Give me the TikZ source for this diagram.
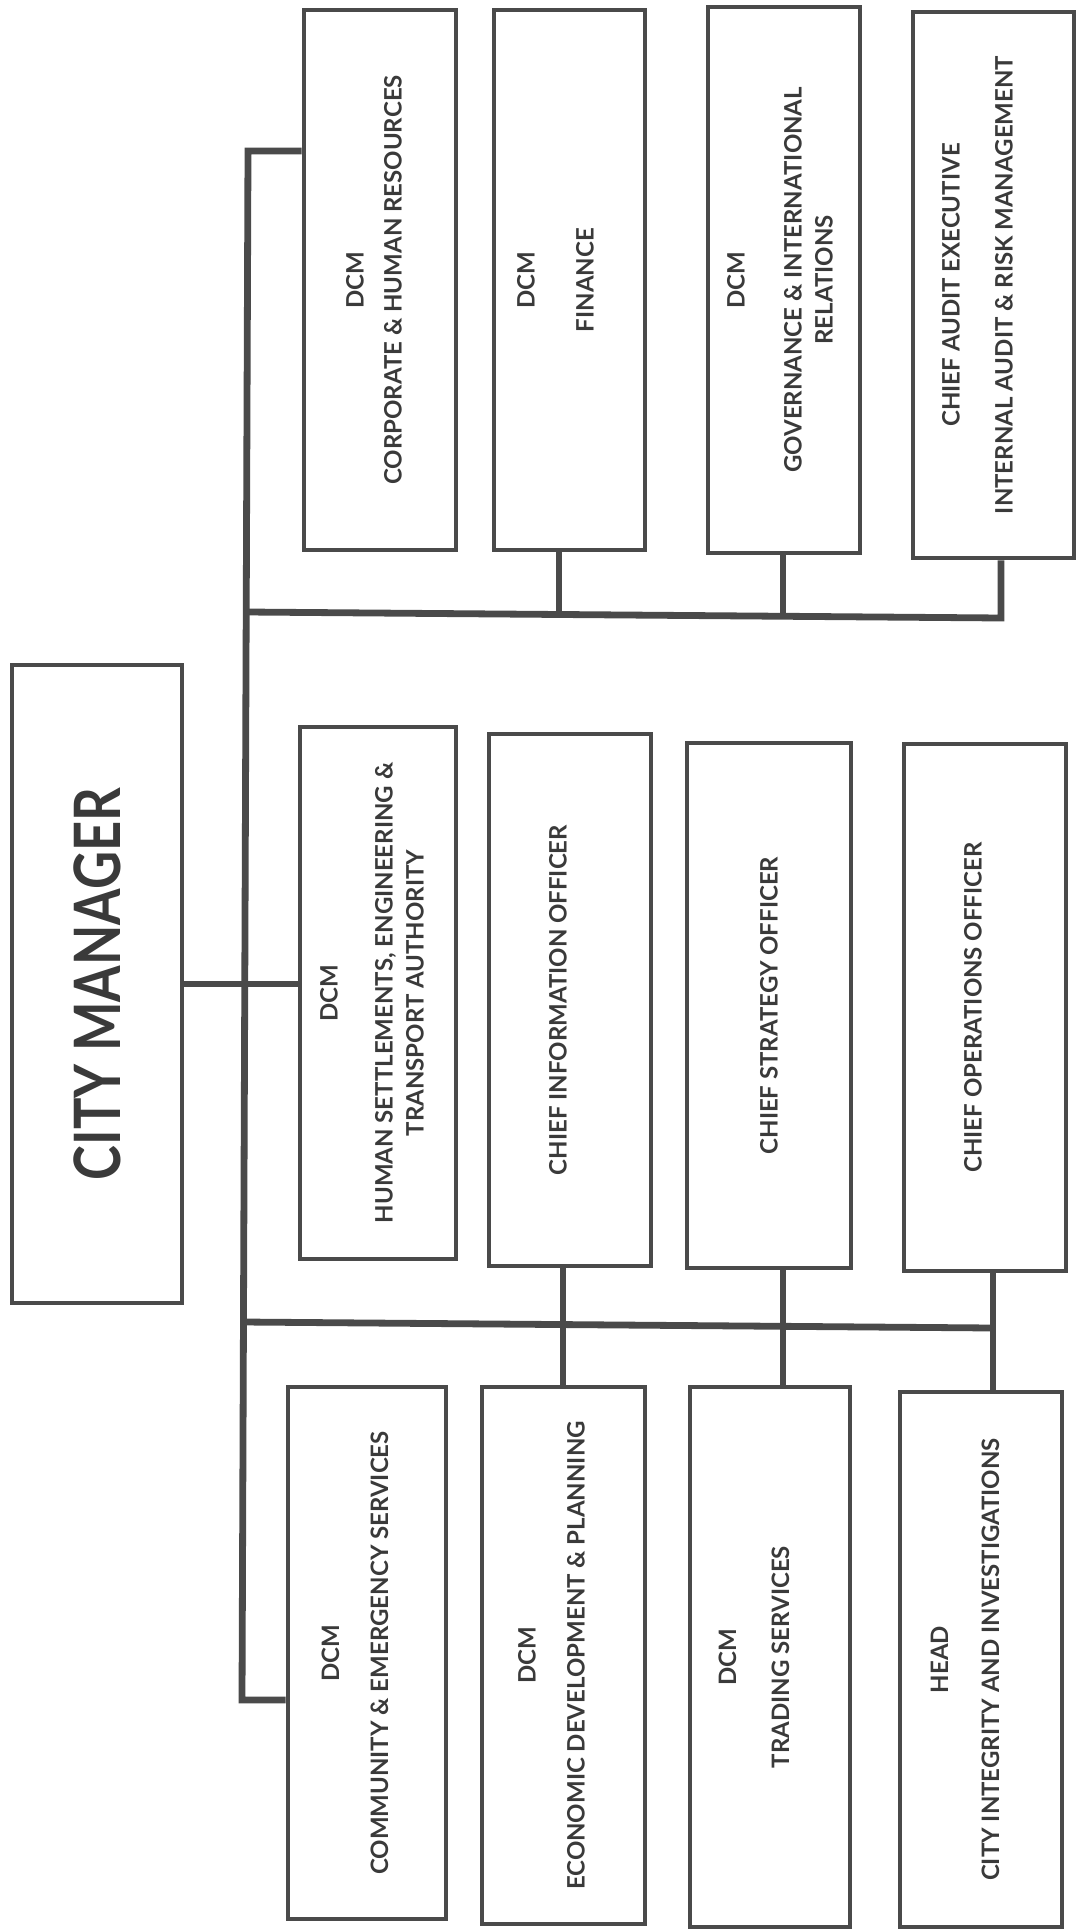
\documentclass[tikz,border=0pt]{standalone}
\usepackage{fontspec}
\setmainfont{Lato}
\usepackage{tikz}
\usetikzlibrary{positioning}
\definecolor{ink}{HTML}{3A3A3A}
\definecolor{rulegray}{HTML}{4A4A4A}

\begin{document}
\begin{tikzpicture}[x=0.5pt,y=-0.5pt,
   box/.style={draw=rulegray,line width=2.4pt,inner sep=0pt},
   sz/.style 2 args={minimum width=#1*0.5pt,minimum height=#2*0.5pt},
   lbl/.style={rotate=90,align=center,text=ink,inner sep=0pt,font=\fontsize{12}{15.5}\selectfont\bfseries},
   wire/.style={draw=rulegray,line width=3.4pt},
]
\useasboundingbox (0,0) rectangle (1080,1930);

\node[box,sz={170}{638}] (cm) at (97,984) {};
\node[lbl,font=\fontsize{32}{36}\selectfont\bfseries] (cm-t) at (cm.center) {\scalebox{0.82}[1]{CITY MANAGER}};

\node[box,sz={152}{540}] (corp)  at (380,280) {};
\node[box,sz={151}{540}] (fin)   at (569.5,280) {};
\node[box,sz={152}{546}] (gov)   at (784,280) {};
\node[box,sz={161}{546}] (audit) at (993.5,285) {};

\node[box,sz={156}{532}] (hum) at (378,993) {};
\node[box,sz={162}{532}] (cio) at (570,1000) {};
\node[box,sz={164}{525}] (cso) at (769,1005.5) {};
\node[box,sz={162}{527}] (coo) at (985,1007.5) {};

\node[box,sz={158}{532}] (comm) at (367,1653) {};
\node[box,sz={163}{537}] (econ) at (563.5,1655.5) {};
\node[box,sz={160}{540}] (trad) at (770,1657) {};
\node[box,sz={162}{535}] (head) at (981,1659.5) {};

\node[lbl] (corp-t)  at ([xshift=-3pt]corp.center)  {DCM\\[3.5pt]CORPORATE \& HUMAN RESOURCES};
\node[lbl] (fin-t)   at ([xshift=-7pt]fin.center)   {DCM\\[14pt]FINANCE};
\node[lbl] (gov-t)   at ([xshift=-2pt]gov.center)   {DCM\\[13pt]GOVERNANCE \& INTERNATIONAL\\RELATIONS};
\node[lbl] (audit-t) at ([xshift=-8pt]audit.center) {CHIEF AUDIT EXECUTIVE\\[11pt]INTERNAL AUDIT \& RISK MANAGEMENT};

\node[lbl] (hum-t) at ([xshift=-3pt]hum.center) {DCM\\[12pt]HUMAN SETTLEMENTS, ENGINEERING \&\\TRANSPORT AUTHORITY};
\node[lbl] (cio-t) at ([xshift=-6pt]cio.center) {CHIEF INFORMATION OFFICER};
\node[lbl] (cso-t) at (cso.center)              {CHIEF STRATEGY OFFICER};
\node[lbl] (coo-t) at ([xshift=-6pt]coo.center) {CHIEF OPERATIONS OFFICER};

\node[lbl] (comm-t) at ([xshift=-6pt]comm.center) {DCM\\[9pt]COMMUNITY \& EMERGENCY SERVICES};
\node[lbl] (econ-t) at ([xshift=-6pt]econ.center) {DCM\\[9pt]ECONOMIC DEVELOPMENT \& PLANNING};
\node[lbl] (trad-t) at ([xshift=-8pt]trad.center) {DCM\\[11pt]TRADING SERVICES};
\node[lbl] (head-t) at ([xshift=-8pt]head.center) {HEAD\\[10pt]CITY INTEGRITY AND INVESTIGATIONS};

\coordinate (jt) at (248,151);
\coordinate (jb) at (242,1700);
\coordinate (tb) at (246,612);
\coordinate (tf) at (559,612);
\coordinate (tg) at (783,614);
\coordinate (ta) at (1001,618);
\coordinate (bb) at (243,1322);
\coordinate (be) at (563,1324);
\coordinate (bt) at (783,1326);
\coordinate (bh) at (993,1328);

\draw[wire] (corp.west |- jt) -- (jt) -- (jb) -- (comm.west |- jb);
\draw[wire] (cm.east) -- (cm.east -| hum.west);
\draw[wire] (tb) -- (ta) -- (ta |- audit.south);
\draw[wire] (tf) -- (tf |- fin.south);
\draw[wire] (tg) -- (tg |- gov.south);
\draw[wire] (bb) -- (bh);
\draw[wire] (be |- cio.south) -- (be |- econ.north);
\draw[wire] (bt |- cso.south) -- (bt |- trad.north);
\draw[wire] (bh |- coo.south) -- (bh |- head.north);
\end{tikzpicture}
\end{document}
